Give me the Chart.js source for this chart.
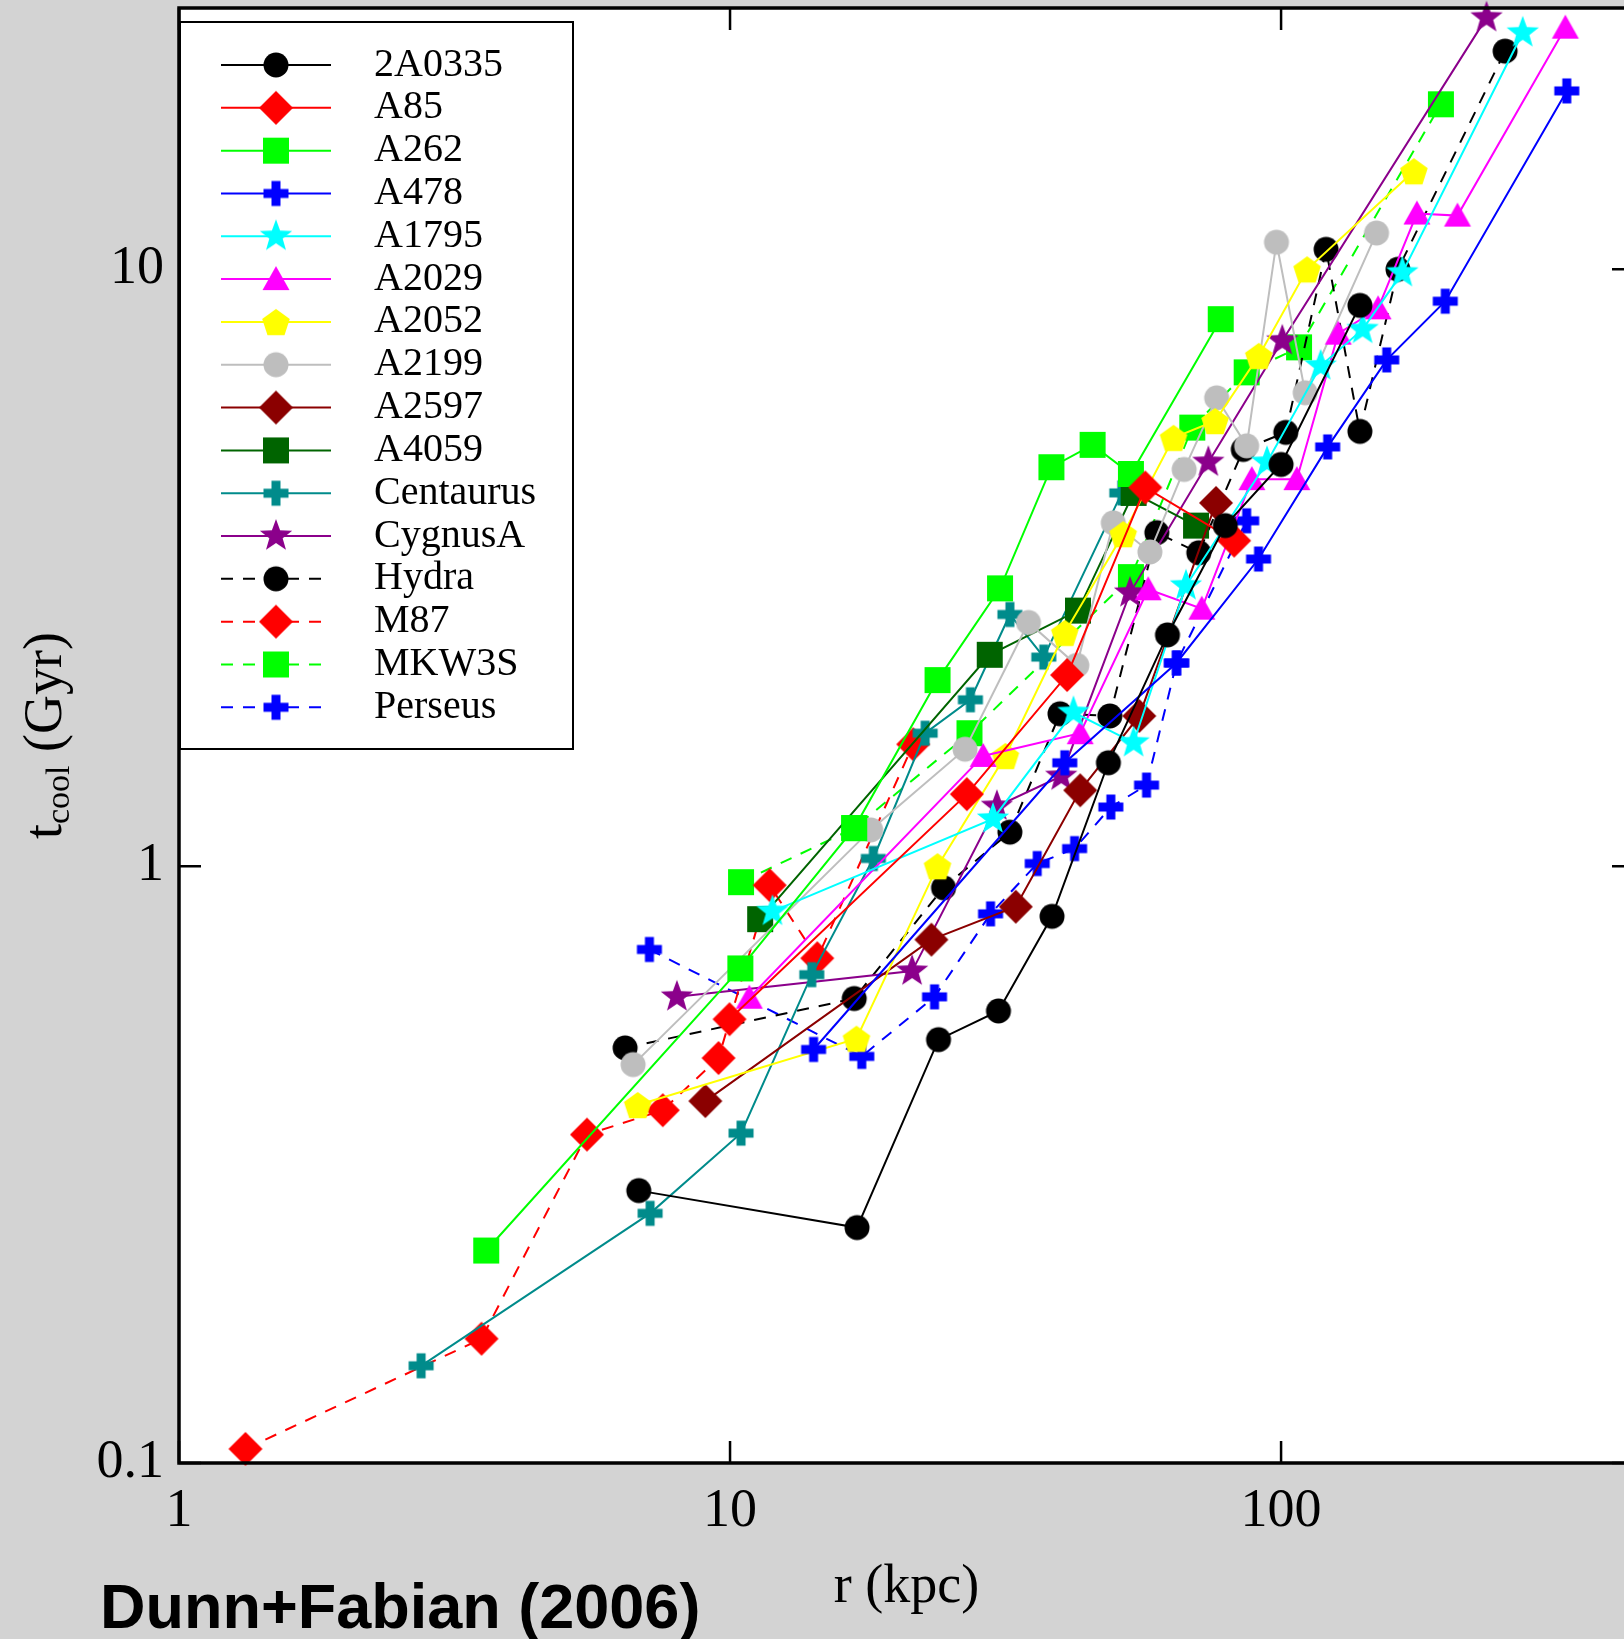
<!DOCTYPE html>
<html>
<head>
<meta charset="utf-8">
<title>Cooling time profiles</title>
<script src="https://cdn.jsdelivr.net/npm/chart.js@4.4.1/dist/chart.umd.min.js"></script>
<style>
  html, body { margin: 0; padding: 0; background: #d3d3d3; overflow: hidden; }
  #wrap { position: relative; width: 1624px; height: 1639px; overflow: hidden; }
  #chart { position: absolute; left: 0; top: 0; }
  #caption { position: absolute; left: 100px; top: 1575px; font: bold 63px "Liberation Sans", Arial, sans-serif;
             line-height: 63px; color: #000; white-space: nowrap; }
</style>
</head>
<body>
<div id="wrap">
  <canvas id="chart" width="1660" height="1639"></canvas>
  <div id="caption">Dunn+Fabian (2006)</div>
</div>
<script>
// radius r (kpc) and cooling time t (Gyr)
const r2A0335 = [6.83, 17.0, 23.9, 30.7, 38.4, 48.6, 62.2, 79.2, 100, 139];
const t2A0335 = [0.286, 0.248, 0.512, 0.572, 0.824, 1.49, 2.44, 3.72, 4.71, 8.70];
const rA85 = [9.98, 26.9, 40.9, 56.7, 82.2];
const tA85 = [0.554, 1.32, 2.09, 4.31, 3.51];
const rA262 = [3.61, 10.44, 16.8, 23.8, 30.9, 38.3, 45.5, 53.4, 77.7];
const tA262 = [0.227, 0.674, 1.158, 2.05, 2.92, 4.66, 5.08, 4.54, 8.25];
const rA478 = [14.18, 40.5, 64.6, 91.0, 121.5, 155.5, 198.6, 330];
const tA478 = [0.493, 1.49, 2.19, 3.27, 5.04, 7.05, 8.84, 19.9];
const rA1795 = [11.94, 30.0, 42.0, 54.0, 67.2, 94.3, 118, 140.6, 166, 274.5];
const tA1795 = [0.840, 1.20, 1.81, 1.61, 2.95, 4.75, 6.89, 7.93, 9.87, 24.9];
const rA2029 = [10.84, 28.8, 43.2, 57.4, 71.8, 88.5, 106.8, 127, 150, 176.4, 209, 328];
const tA2029 = [0.602, 1.53, 1.67, 2.91, 2.70, 4.45, 4.45, 7.8, 8.6, 12.4, 12.3, 25.4];
const rA2052 = [6.80, 16.96, 23.8, 31.6, 40.5, 51.7, 63.8, 75.9, 91.1, 111.5, 174.2];
const tA2052 = [0.398, 0.514, 1.0, 1.53, 2.46, 3.60, 5.22, 5.57, 7.16, 10.0, 14.6];
const rA2199 = [6.67, 18.0, 26.7, 34.8, 42.6, 49.6, 57.8, 66.7, 76.4, 86.6, 98.1, 110.6, 149];
const tA2199 = [0.465, 1.15, 1.57, 2.56, 2.17, 3.76, 3.36, 4.62, 6.09, 5.06, 11.1, 6.21, 11.5];
const rA2597 = [9.02, 23.2, 33.0, 43.2, 55.3, 76.2];
const tA2597 = [0.404, 0.753, 0.855, 1.34, 1.785, 4.06];
const rA4059 = [11.34, 29.6, 42.8, 54.0, 70.1];
const tA4059 = [0.815, 2.26, 2.68, 4.22, 3.72];
const rCentaurus = [2.75, 7.16, 10.47, 14.07, 18.2, 22.6, 27.3, 32.2, 37.1, 51.4];
const tCentaurus = [0.1455, 0.262, 0.357, 0.658, 1.03, 1.67, 1.90, 2.64, 2.24, 4.22];
const rCygnusA = [8.01, 21.4, 30.5, 39.9, 53.2, 73.8, 100.5, 236];
const tCygnusA = [0.604, 0.667, 1.26, 1.415, 2.87, 4.75, 7.59, 26.4];
const rHydra = [6.45, 16.8, 24.4, 32.2, 39.7, 48.9, 59.5, 70.9, 85.4, 102, 120.7, 139, 163, 255];
const tHydra = [0.496, 0.600, 0.92, 1.14, 1.80, 1.785, 3.62, 3.35, 4.99, 5.33, 10.8, 5.35, 10.0, 23.2];
const rM87 = [1.32, 3.54, 5.50, 7.55, 9.53, 11.8, 14.4, 21.5];
const tM87 = [0.1056, 0.1615, 0.355, 0.39, 0.477, 0.929, 0.701, 1.60];
const rMKW3S = [10.47, 16.8, 27.2, 53.4, 69.0, 86.6, 107.8, 195];
const tMKW3S = [0.940, 1.158, 1.67, 3.05, 5.43, 6.72, 7.40, 18.9];
const rPerseus = [7.14, 17.34, 23.5, 29.7, 36.1, 42.2, 49.1, 57.0, 64.6, 86.6];
const tPerseus = [0.725, 0.48, 0.604, 0.832, 1.01, 1.07, 1.256, 1.367, 2.19, 3.79];

const xTickValues = [1, 2, 3, 4, 5, 6, 7, 8, 9, 10, 20, 30, 40, 50, 60, 70, 80, 90, 100, 200, 300, 400];
const yTickValues = [0.1, 0.2, 0.3, 0.4, 0.5, 0.6, 0.7, 0.8, 0.9, 1, 2, 3, 4, 5, 6, 7, 8, 9, 10, 20];
const xTickLabels = ['1', '10', '100'];
const yTickLabels = ['0.1', '1', '10'];

// name, radii, times, colour, marker, dashed
const series = [
  ['2A0335', r2A0335, t2A0335, '#000000', 'circle', false],
  ['A85', rA85, tA85, '#ff0000', 'diamond', false],
  ['A262', rA262, tA262, '#00ff00', 'square', false],
  ['A478', rA478, tA478, '#0000ff', 'plus', false],
  ['A1795', rA1795, tA1795, '#00ffff', 'star', false],
  ['A2029', rA2029, tA2029, '#ff00ff', 'triangle', false],
  ['A2052', rA2052, tA2052, '#ffff00', 'pentagon', false],
  ['A2199', rA2199, tA2199, '#bebebe', 'circle', false],
  ['A2597', rA2597, tA2597, '#8b0000', 'diamond', false],
  ['A4059', rA4059, tA4059, '#006400', 'square', false],
  ['Centaurus', rCentaurus, tCentaurus, '#008b8b', 'plus', false],
  ['CygnusA', rCygnusA, tCygnusA, '#8b008b', 'star', false],
  ['Hydra', rHydra, tHydra, '#000000', 'circle', true],
  ['M87', rM87, tM87, '#ff0000', 'diamond', true],
  ['MKW3S', rMKW3S, tMKW3S, '#00ff00', 'square', true],
  ['Perseus', rPerseus, tPerseus, '#0000ff', 'plus', true]
];

const DASH = [12, 10];

function makeMarker(shape, color) {
  const c = document.createElement('canvas');
  c.width = 40; c.height = 40;
  const g = c.getContext('2d');
  g.fillStyle = color;
  g.translate(20, 20);
  g.beginPath();
  if (shape === 'circle') {
    g.arc(0, 0, 12.5, 0, Math.PI * 2);
  } else if (shape === 'square') {
    g.rect(-13, -13, 26, 26);
  } else if (shape === 'diamond') {
    g.moveTo(0, -17); g.lineTo(17, 0); g.lineTo(0, 17); g.lineTo(-17, 0);
  } else if (shape === 'plus') {
    g.rect(-12.5, -4.5, 25, 9);
    g.rect(-4.5, -12.5, 9, 25);
  } else if (shape === 'triangle') {
    g.moveTo(0, -13); g.lineTo(13.5, 11); g.lineTo(-13.5, 11);
  } else if (shape === 'star') {
    for (let i = 0; i < 10; i++) {
      const a = -Math.PI / 2 + i * Math.PI / 5;
      const rr = i % 2 ? 7 : 17;
      if (i === 0) g.moveTo(rr * Math.cos(a), rr * Math.sin(a));
      else g.lineTo(rr * Math.cos(a), rr * Math.sin(a));
    }
  } else if (shape === 'pentagon') {
    for (let i = 0; i < 5; i++) {
      const a = -Math.PI / 2 + i * 2 * Math.PI / 5;
      if (i === 0) g.moveTo(14.5 * Math.cos(a), 1.5 + 14.5 * Math.sin(a));
      else g.lineTo(14.5 * Math.cos(a), 1.5 + 14.5 * Math.sin(a));
    }
  }
  g.closePath();
  g.fill();
  return c;
}

const datasets = series.map(([name, rs, ts, color, shape, dashed]) => ({
  label: name,
  data: rs.map((r, i) => ({ x: r, y: ts[i] })),
  borderColor: color,
  backgroundColor: color,
  borderWidth: 2,
  borderDash: dashed ? DASH : [],
  pointStyle: makeMarker(shape, color),
  pointRadius: 12,
  tension: 0,
  fill: false,
  clip: false
}));

const isLabelled = (v, labels) => labels.includes(String(v));

const framePlugin = {
  id: 'frame',
  beforeDraw(chart) {
    const { ctx, chartArea: a, width, height } = chart;
    ctx.save();
    ctx.fillStyle = '#d3d3d3';
    ctx.fillRect(0, 0, width, height);
    ctx.fillStyle = '#ffffff';
    ctx.fillRect(a.left, a.top, a.right - a.left, a.bottom - a.top);
    ctx.restore();
  },
  afterDatasetsDraw(chart) {
    const { ctx, chartArea: a } = chart;
    const xs = chart.scales.x, ys = chart.scales.y;
    ctx.save();
    ctx.strokeStyle = '#000';
    ctx.lineWidth = 2.5;
    ctx.beginPath();
    xs.ticks.forEach(t => {
      const px = xs.getPixelForValue(t.value);
      const len = isLabelled(t.value, xTickLabels) ? 22 : 11;
      ctx.moveTo(px, a.bottom); ctx.lineTo(px, a.bottom - len);
      ctx.moveTo(px, a.top); ctx.lineTo(px, a.top + len);
    });
    ys.ticks.forEach(t => {
      const py = ys.getPixelForValue(t.value);
      const len = isLabelled(t.value, yTickLabels) ? 22 : 11;
      ctx.moveTo(a.left, py); ctx.lineTo(a.left + len, py);
      ctx.moveTo(a.right, py); ctx.lineTo(a.right - len, py);
    });
    ctx.stroke();
    ctx.lineWidth = 3.5;
    ctx.strokeRect(a.left, a.top, a.right - a.left, a.bottom - a.top);
    ctx.restore();
  },
  afterDraw(chart) {
    const { ctx, chartArea: a } = chart;
    ctx.save();
    // legend box in the upper left corner of the plot
    const lx = a.left + 1, ly = a.top + 14, lw = 393, lh = 727;
    ctx.fillStyle = '#fff';
    ctx.fillRect(lx, ly, lw, lh);
    ctx.lineWidth = 2;
    ctx.strokeStyle = '#000';
    ctx.strokeRect(lx, ly, lw, lh);
    chart.data.datasets.forEach((ds, i) => {
      const cy = ly + 43 + i * 42.82;
      ctx.strokeStyle = ds.borderColor;
      ctx.lineWidth = 2;
      ctx.setLineDash(ds.borderDash);
      ctx.beginPath();
      ctx.moveTo(lx + 41, cy);
      ctx.lineTo(lx + 151, cy);
      ctx.stroke();
      ctx.setLineDash([]);
      const m = ds.pointStyle;
      ctx.drawImage(m, lx + 96 - m.width / 2, cy - m.height / 2);
      ctx.fillStyle = '#000';
      ctx.font = '40px "Liberation Serif"';
      ctx.textBaseline = 'middle';
      ctx.textAlign = 'left';
      ctx.fillText(ds.label, lx + 194, cy);
    });
    // y axis title with subscript
    ctx.translate(61, (a.top + a.bottom) / 2);
    ctx.rotate(-Math.PI / 2);
    ctx.fillStyle = '#000';
    ctx.textBaseline = 'alphabetic';
    const big = '54px "Liberation Serif"', small = '34px "Liberation Serif"';
    ctx.font = big;
    const w1 = ctx.measureText('t').width, w3 = ctx.measureText(' (Gyr)').width;
    ctx.font = small;
    const w2 = ctx.measureText('cool').width;
    let u = -(w1 + w2 + w3) / 2;
    ctx.font = big; ctx.fillText('t', u, 0); u += w1;
    ctx.font = small; ctx.fillText('cool', u, 8); u += w2;
    ctx.font = big; ctx.fillText(' (Gyr)', u, 0);
    ctx.restore();
  }
};

const tickFont = { family: '"Liberation Serif", "Times New Roman", serif', size: 54 };

new Chart(document.getElementById('chart'), {
  type: 'line',
  data: { datasets: datasets },
  options: {
    responsive: false,
    animation: false,
    devicePixelRatio: 1,
    layout: { autoPadding: false, padding: { left: 0, right: 26, top: 8, bottom: 0 } },
    plugins: { legend: { display: false }, tooltip: { enabled: false } },
    scales: {
      x: {
        type: 'logarithmic',
        min: 1,
        max: 437,
        grid: { display: false, drawTicks: false },
        border: { display: false },
        afterBuildTicks: s => { s.ticks = xTickValues.map(v => ({ value: v })); },
        afterFit: s => { s.height = 176; s.paddingLeft = 0; s.paddingRight = 0; },
        ticks: {
          autoSkip: false, maxRotation: 0, padding: 16, color: '#000', font: tickFont,
          callback: v => isLabelled(v, xTickLabels) ? String(v) : null
        },
        title: {
          display: true, text: 'r (kpc)', color: '#000', font: tickFont,
          padding: { top: 0, bottom: 19 }
        }
      },
      y: {
        type: 'logarithmic',
        min: 0.1,
        max: 27.4,
        grid: { display: false, drawTicks: false },
        border: { display: false },
        afterBuildTicks: s => { s.ticks = yTickValues.map(v => ({ value: v })); },
        afterFit: s => { s.width = 179; s.paddingTop = 0; s.paddingBottom = 0; },
        ticks: {
          autoSkip: false, padding: 15, color: '#000', font: tickFont,
          callback: v => isLabelled(v, yTickLabels) ? String(v) : null
        }
      }
    }
  },
  plugins: [framePlugin]
});
</script>
</body>
</html>
